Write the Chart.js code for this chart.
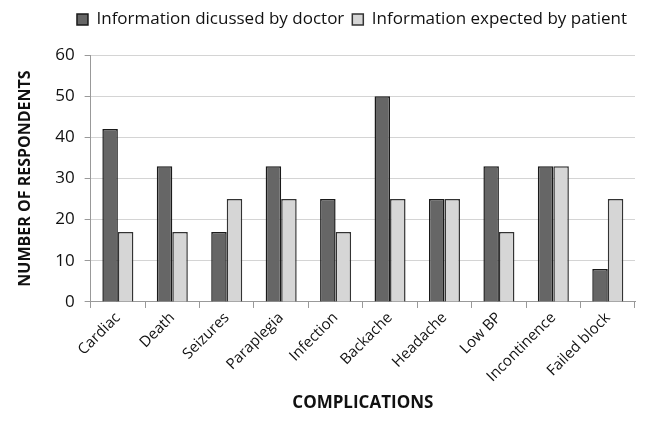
<!DOCTYPE html>
<html>
<head>
<meta charset="utf-8">
<script src="https://cdn.jsdelivr.net/npm/chart.js@4/dist/chart.umd.min.js"></script>
<style>
  html, body { margin: 0; padding: 0; background: #fff; }
  #wrap { width: 652px; height: 432px; }
</style>
</head>
<body>
<div id="wrap"><canvas id="chart" width="652" height="432"></canvas></div>
<script>
// Data
const categories = ['Cardiac', 'Death', 'Seizures', 'Paraplegia', 'Infection',
    'Backache', 'Headache', 'Low BP', 'Incontinence', 'Failed block'];
const discussedByDoctor = [42, 33, 17, 33, 25, 50, 25, 33, 33, 8];
const expectedByPatient = [17, 17, 25, 25, 17, 25, 25, 17, 33, 25];
const yTicks = [0, 10, 20, 30, 40, 50, 60];

const fontFamily = '"Open Sans", Arial, sans-serif';

const data = {
    labels: categories,
    datasets: [{
        label: 'Information dicussed by doctor',
        data: discussedByDoctor,
        backgroundColor: '#666666',
        borderColor: '#1a1a1a',
        borderWidth: 1.5
    }, {
        label: 'Information expected by patient',
        data: expectedByPatient,
        backgroundColor: '#d6d6d6',
        borderColor: '#333333',
        borderWidth: 1.5
    }]
};

// push the plot area down a bit below the legend
const legendSpacer = {
    id: 'legendSpacer',
    beforeInit(chart) {
        const origFit = chart.legend.fit;
        chart.legend.fit = function () {
            origFit.bind(chart.legend)();
            this.height += 17;
        };
    }
};

const config = {
    type: 'bar',
    data: data,
    plugins: [legendSpacer],
    options: {
        responsive: false,
        animation: false,
        layout: { padding: { left: 12, right: 17, top: 3, bottom: 15 } },
        datasets: {
            bar: { barPercentage: 1, categoryPercentage: 0.57 }
        },
        plugins: {
            legend: {
                position: 'top',
                align: 'end',
                labels: {
                    color: '#111',
                    boxWidth: 11,
                    boxHeight: 11,
                    padding: 8,
                    font: { family: fontFamily, size: 17 }
                }
            },
            tooltip: { enabled: false }
        },
        scales: {
            x: {
                offset: true,
                grid: {
                    offset: true,
                    drawOnChartArea: false,
                    tickLength: 6,
                    color: '#999'
                },
                border: { color: '#999' },
                ticks: {
                    color: '#111',
                    padding: 1,
                    maxRotation: 45,
                    minRotation: 45,
                    font: { family: fontFamily, size: 15 }
                },
                title: {
                    display: true,
                    text: 'COMPLICATIONS',
                    color: '#111',
                    padding: { top: 6 },
                    font: { family: fontFamily, size: 17, weight: 'bold' }
                }
            },
            y: {
                min: 0,
                max: 60,
                afterBuildTicks: function (axis) {
                    axis.ticks = yTicks.map(v => ({ value: v }));
                },
                grid: {
                    color: '#d4d4d4',
                    tickLength: 6,
                    tickColor: '#999'
                },
                border: { color: '#999' },
                ticks: {
                    color: '#111',
                    padding: 10,
                    font: { family: fontFamily, size: 17 }
                },
                title: {
                    display: true,
                    text: 'NUMBER OF RESPONDENTS',
                    color: '#111',
                    padding: { bottom: 10 },
                    font: { family: fontFamily, size: 16, weight: 'bold' }
                }
            }
        }
    }
};

const ctx = document.getElementById('chart').getContext('2d');
new Chart(ctx, config);
</script>
</body>
</html>
